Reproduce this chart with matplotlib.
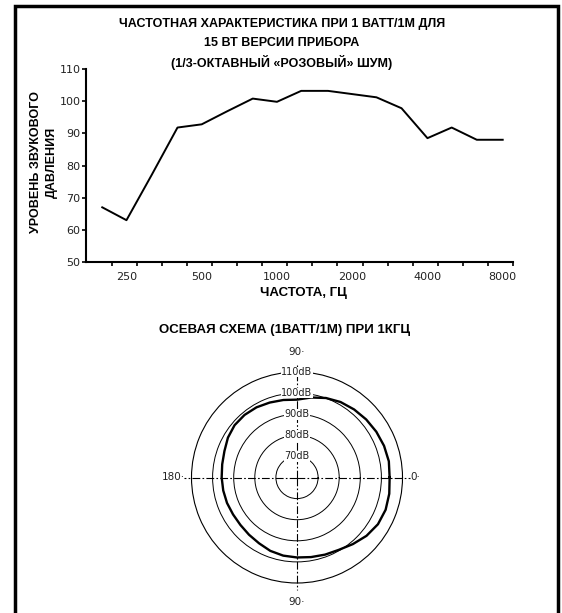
import matplotlib.pyplot as plt
import matplotlib.patches as patches
import numpy as np

# частотная характеристика (1/3-октавные полосы)
freqs = [200, 250, 315, 400, 500, 630, 800, 1000, 1250, 1600, 2000,
         2500, 3150, 4000, 5000, 6300, 8000]
spl = [67, 63, 77, 91.8, 92.8, 96.8, 100.8, 99.8, 103.2, 103.2, 102.2,
       101.2, 97.8, 88.5, 91.8, 88, 88]
x_labels = [250, 500, 1000, 2000, 4000, 8000]
y_ticks = [50, 60, 70, 80, 90, 100, 110]

# осевая схема при 1 кГц (шаг 10 градусов)
angles_deg = [0, 10, 20, 30, 40, 50, 60, 70, 80, 90, 100, 110, 120, 130,
              140, 150, 160, 170, 180, 190, 200, 210, 220, 230, 240, 250,
              260, 270, 280, 290, 300, 310, 320, 330, 340, 350, 360]
polar_db = [103.9, 104.2, 103.9, 103.4, 102.8, 102.1, 101.3, 100.1, 98.5,
            96.9, 97.3, 97.8, 98.4, 98.7, 98.6, 97.8, 96.6, 96.0, 95.7,
            95.5, 95.3, 95.0, 95.0, 95.4, 96.0, 97.0, 97.6, 97.9, 98.3,
            98.9, 99.6, 101.2, 103.0, 104.3, 104.7, 104.4, 103.9]
rings = [70, 80, 90, 100, 110]

W, H = 562, 613
bold_font = ['Liberation Sans Narrow', 'Liberation Sans', 'DejaVu Sans']
light_font = ['DejaVu Sans']

fig = plt.figure(figsize=(W / 100, H / 100), dpi=100)
fig.patch.set_facecolor('white')


def fx(px):
    return px / W


def fy(py):
    return 1 - py / H


# рамка
frame = patches.Rectangle((fx(14.75), -0.05), fx(558) - fx(14.75),
                          fy(6.5) + 0.05, transform=fig.transFigure,
                          fill=False, edgecolor='black', linewidth=2.5,
                          clip_on=False)
fig.patches.append(frame)

# верхний график
ax = fig.add_axes([fx(86), fy(262), fx(513) - fx(86), (262 - 69) / H])
ax.plot(freqs, spl, color='black', linewidth=1.4)
ax.set_xscale('log', base=2)
f_left = 8000 / 2 ** (417 / 75.3)
f_right = 8000 * 2 ** (10.3 / 75.3)
ax.set_xlim(f_left, f_right)
ax.set_ylim(50, 110)

ax.set_xticks(x_labels)
ax.set_xticklabels([str(v) for v in x_labels], family=light_font,
                   fontsize=8, color='#222222')
ax.tick_params(axis='x', which='major', length=0, pad=7)
edges = f_right / 2 ** (np.arange(17) / 3)
ax.set_xticks(edges, minor=True)
ax.tick_params(axis='x', which='minor', length=3, width=1.2,
               direction='out', color='black')
ax.xaxis.set_minor_formatter(plt.NullFormatter())

ax.set_yticks(y_ticks)
ax.set_yticklabels([str(v) for v in y_ticks], family=light_font,
                   fontsize=8, color='#222222')
ax.tick_params(axis='y', length=3, width=1.2, pad=1)

for side in ['top', 'right']:
    ax.spines[side].set_visible(False)
for side in ['left', 'bottom']:
    ax.spines[side].set_linewidth(1.5)

title_lines = ['ЧАСТОТНАЯ ХАРАКТЕРИСТИКА ПРИ 1 ВАТТ/1М ДЛЯ',
               '15 ВТ ВЕРСИИ ПРИБОРА',
               '(1/3-ОКТАВНЫЙ «РОЗОВЫЙ» ШУМ)']
for py, line in zip([24, 43, 62], title_lines):
    fig.text(fx(282), fy(py), line, ha='center', va='center',
             family=bold_font, weight='bold', fontsize=9)

fig.text(fx(44), fy(162), 'УРОВЕНЬ ЗВУКОВОГО\nДАВЛЕНИЯ', rotation=90,
         ha='center', va='center', family=bold_font, weight='bold',
         fontsize=9, linespacing=1.5)
fig.text(fx(303), fy(293), 'ЧАСТОТА, ГЦ', ha='center', va='center',
         family=bold_font, weight='bold', fontsize=9.5)

# полярный график
fig.text(fx(285), fy(330), 'ОСЕВАЯ СХЕМА (1ВАТТ/1М) ПРИ 1КГЦ',
         ha='center', va='center', family=bold_font, weight='bold',
         fontsize=9.5)

r_px = 105.5
ax2 = fig.add_axes([fx(297 - r_px), fy(477.5 + r_px), 2 * r_px / W,
                    2 * r_px / H], projection='polar')
ax2.set_ylim(60, 110)
ax2.set_xticks([])
ax2.set_yticks(rings[:-1])
ax2.set_yticklabels([])
ax2.grid(True, color='black', linewidth=0.7, linestyle='-')
ax2.spines['polar'].set_linewidth(0.8)

theta = np.deg2rad(angles_deg)
ax2.plot(theta, polar_db, color='black', linewidth=1.7, zorder=4)

for t in [0, np.pi / 2, np.pi, 3 * np.pi / 2]:
    ax2.plot([t, t], [60, 113.5], color='black', linewidth=0.8,
             dashes=[7, 2, 1.5, 2], clip_on=False, zorder=3)

for r in rings:
    ax2.text(np.pi / 2, r, f'{r}dB', ha='center', va='center',
             family=light_font, fontsize=7, color='#222222', zorder=5,
             bbox=dict(facecolor='white', edgecolor='none', pad=0.3))

angle_labels = [(np.pi / 2, 119.5, '90·'), (3 * np.pi / 2, 119, '90·'),
                (np.pi, 118.8, '180·'), (0, 116, '0·')]
for t, r, s in angle_labels:
    ax2.text(t, r, s, ha='center', va='center', family=light_font,
             fontsize=7.5, color='#222222', clip_on=False)

fig.savefig('out.png', dpi=100, facecolor='white')
